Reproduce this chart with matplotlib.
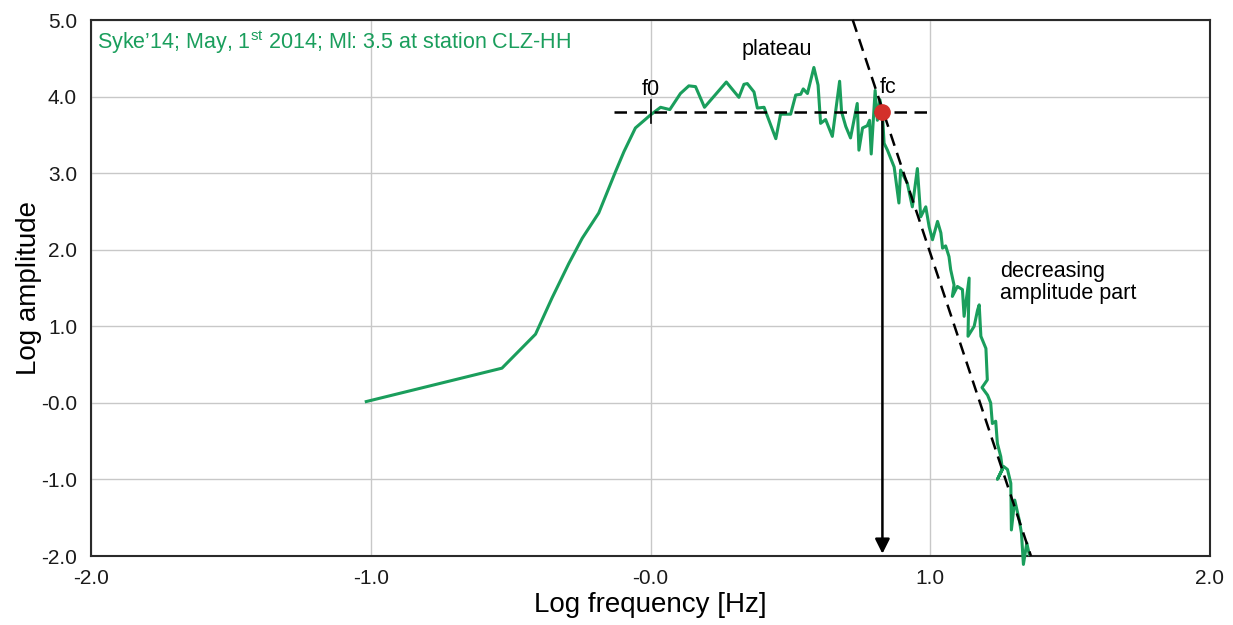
import matplotlib.pyplot as plt
import numpy as np

plt.rcParams["font.family"] = ["Liberation Sans", "DejaVu Sans"]
plt.rcParams["mathtext.fontset"] = "custom"
plt.rcParams["mathtext.rm"] = "Liberation Sans"

# spectrum (log f, log amplitude)
LOG_FREQ = [
    -1.016, -0.531, -0.411, -0.352, -0.292, -0.244, -0.185, -0.125, -0.095, -0.054,
    0.000, 0.036, 0.069, 0.107, 0.137, 0.161, 0.193, 0.271, 0.316, 0.334,
    0.346, 0.370, 0.382, 0.406, 0.448, 0.465, 0.501, 0.519, 0.537, 0.546,
    0.561, 0.584, 0.599, 0.608, 0.626, 0.650, 0.676, 0.683, 0.698, 0.715,
    0.739, 0.745, 0.758, 0.775, 0.783, 0.789, 0.803, 0.811, 0.820, 0.829,
    0.835, 0.847, 0.871, 0.888, 0.894, 0.918, 0.936, 0.954, 0.966, 0.984,
    0.996, 1.008, 1.026, 1.038, 1.044, 1.055, 1.067, 1.073, 1.085, 1.079,
    1.097, 1.115, 1.121, 1.139, 1.135, 1.157, 1.169, 1.175, 1.181, 1.199,
    1.204, 1.185, 1.205, 1.216, 1.222, 1.234, 1.240, 1.252, 1.258, 1.240,
    1.262, 1.276, 1.288, 1.290, 1.302, 1.318, 1.326, 1.333, 1.345, 1.354,
]
LOG_AMP = [
    0.017, 0.453, 0.897, 1.370, 1.820, 2.150, 2.480, 3.020, 3.280, 3.590,
    3.760, 3.860, 3.830, 4.040, 4.140, 4.130, 3.860, 4.190, 3.990, 4.160,
    4.170, 4.060, 3.850, 3.860, 3.450, 3.770, 3.770, 4.020, 4.030, 4.100,
    4.040, 4.380, 4.150, 3.650, 3.700, 3.480, 4.200, 3.800, 3.610, 3.460,
    3.910, 3.300, 3.590, 3.620, 3.690, 3.250, 4.080, 3.690, 3.960, 3.780,
    3.390, 3.300, 3.080, 2.610, 3.040, 2.870, 2.560, 3.060, 2.430, 2.560,
    2.300, 2.130, 2.370, 2.220, 2.020, 2.050, 1.910, 1.740, 1.540, 1.390,
    1.520, 1.480, 1.130, 1.630, 0.870, 1.000, 1.210, 1.280, 0.870, 0.710,
    0.300, 0.200, 0.100, 0.000, -0.270, -0.240, -0.530, -0.700, -0.870, -1.000,
    -0.830, -0.870, -1.050, -1.660, -1.270, -1.530, -1.700, -2.110, -1.830, -1.980,
]

PLATEAU_LEVEL = 3.8
PLATEAU_SPAN = [-0.13, 1.0]
F0 = 0.0
FC = 0.829
DECAY_X = [0.723, 1.36]
DECAY_Y = [5.0, -2.0]

X_TICKS = [-2.0, -1.0, 0.0, 1.0, 2.0]
X_TICK_LABELS = ["-2.0", "-1.0", "-0.0", "1.0", "2.0"]
Y_TICKS = [5.0, 4.0, 3.0, 2.0, 1.0, 0.0, -1.0, -2.0]
Y_TICK_LABELS = ["5.0", "4.0", "3.0", "2.0", "1.0", "-0.0", "-1.0", "-2.0"]

GREEN = "#1a9e5c"
RED = "#d3302a"

fig = plt.figure(figsize=(12.33, 6.25), dpi=100)
ax = fig.add_axes([91 / 1233, 69 / 625, 1119 / 1233, 536 / 625])

ax.grid(True, color="#c8c8c8", linewidth=1.0)
ax.set_axisbelow(True)

ax.plot(LOG_FREQ, LOG_AMP, color=GREEN, linewidth=2.2, zorder=3, clip_on=False)

ax.plot(PLATEAU_SPAN, [PLATEAU_LEVEL, PLATEAU_LEVEL], color="black",
        linestyle=(0, (5, 3)), linewidth=1.8, zorder=4)
ax.plot(DECAY_X, DECAY_Y, color="black", linestyle=(0, (5, 3)),
        linewidth=1.8, zorder=4, clip_on=False)
ax.plot([F0, F0], [PLATEAU_LEVEL - 0.15, PLATEAU_LEVEL + 0.16], color="black",
        linewidth=1.2, zorder=4)

ax.annotate("", xy=(FC, -1.97), xytext=(FC, PLATEAU_LEVEL),
            arrowprops=dict(arrowstyle="-|>", color="black", lw=1.8,
                            mutation_scale=22, shrinkA=0, shrinkB=0), zorder=5)
ax.plot([FC], [PLATEAU_LEVEL], "o", color=RED, markersize=11, zorder=6)

ax.text(F0 - 0.03, 4.09, "f0", fontsize=15.5, ha="left", va="center")
ax.text(FC - 0.01, 4.12, "fc", fontsize=15.5, ha="left", va="center")
ax.text(0.45, 4.61, "plateau", fontsize=15.5, ha="center", va="center")
ax.text(1.25, 1.57, "decreasing\namplitude part", fontsize=15.5,
        ha="left", va="center", linespacing=1.1)

ax.text(0.005, 0.958, "Syke\u201914; May, 1$^{\\mathrm{st}}$ 2014; Ml: 3.5 at station CLZ-HH",
        transform=ax.transAxes, color=GREEN, fontsize=15.5, ha="left", va="center")

ax.set_xlim(-2.0, 2.0)
ax.set_ylim(-2.0, 5.0)
ax.set_xticks(X_TICKS)
ax.set_xticklabels(X_TICK_LABELS)
ax.set_yticks(Y_TICKS)
ax.set_yticklabels(Y_TICK_LABELS)
ax.tick_params(axis="both", length=0, labelsize=15, colors="#1a1a1a")
ax.tick_params(axis="x", pad=9)
ax.tick_params(axis="y", pad=10)

for spine in ax.spines.values():
    spine.set_color("#2a2a2a")
    spine.set_linewidth(1.5)

ax.set_xlabel("Log frequency [Hz]", fontsize=20, labelpad=3)
ax.set_ylabel("Log amplitude", fontsize=20, labelpad=-1)

fig.savefig("out.png", dpi=100)
